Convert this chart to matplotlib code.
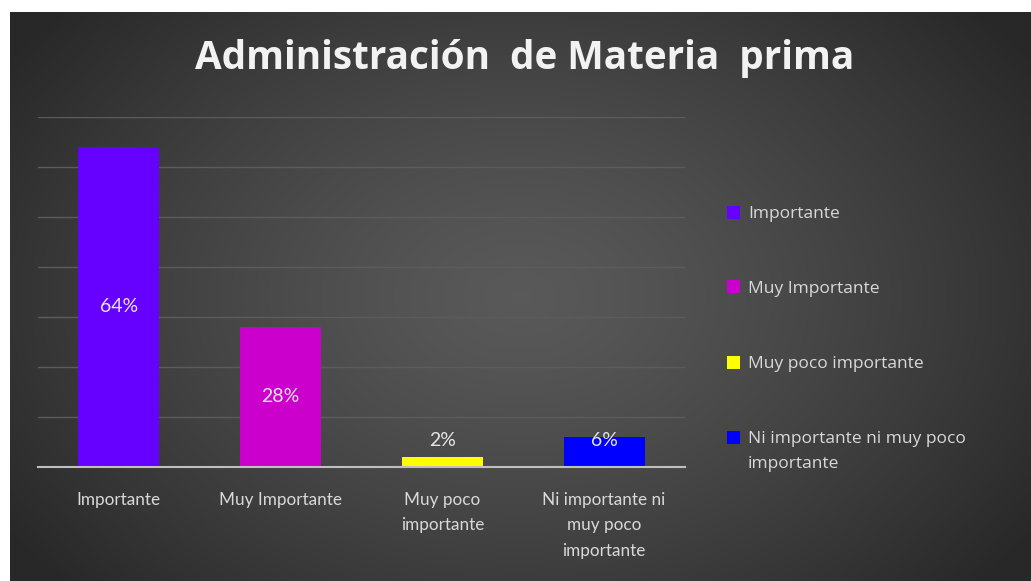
import numpy as np
import matplotlib.pyplot as plt
from matplotlib.patches import Rectangle

categorias = ["Importante", "Muy Importante", "Muy poco\nimportante", "Ni importante ni\nmuy poco\nimportante"]
leyenda = ["Importante", "Muy Importante", "Muy poco importante", "Ni importante ni muy poco\nimportante"]
valores = [0.64, 0.28, 0.02, 0.06]
colores = ["#6600FF", "#CC00CC", "#FFFF00", "#0000FF"]

plt.rcParams['font.family'] = ['Lato', 'DejaVu Sans']

W, H = 1031, 581
fig = plt.figure(figsize=(W / 100, H / 100), dpi=100)
fig.patch.set_facecolor("white")

# fondo oscuro con degradado radial
bg = fig.add_axes([10 / W, 0, 1 - 10 / W, 569 / H])
yy, xx = np.mgrid[0:1:300j, 0:1:500j]
r = np.sqrt(((xx - 0.5) / 0.6) ** 2 + ((yy - 0.5) / 0.75) ** 2)
g = 0.35 - 0.19 * np.clip(r, 0, 1) ** 1.3
bg.imshow(np.dstack([g, g, g]), aspect="auto", extent=[0, 1, 0, 1])
bg.set_axis_off()

ax = fig.add_axes([38 / W, (H - 467) / H, (685 - 38) / W, 350 / H])
ax.set_facecolor("none")
x = np.arange(len(valores))
barras = ax.bar(x, valores, width=0.5, color=colores, zorder=3)
ax.set_xlim(-0.5, 3.5)
ax.set_ylim(0, 0.7)
ax.set_yticks(np.arange(0, 0.71, 0.1))
ax.yaxis.grid(True, color="#5c5c5c", linewidth=1)
ax.tick_params(axis="y", left=False, labelleft=False)
ax.tick_params(axis="x", length=0, pad=18, labelsize=12.3, colors="#d9d9d9")
ax.set_xticks(x)
ax.set_xticklabels(categorias, linespacing=1.72)
for s in ["top", "right", "left"]:
    ax.spines[s].set_visible(False)
ax.spines["bottom"].set_color("#bfbfbf")
ax.spines["bottom"].set_linewidth(1.5)
ax.spines["bottom"].set_zorder(4)

for xi, v in zip(x, valores):
    ax.text(xi, max(v / 2, 0.052), f"{v:.0%}", ha="center", va="center",
            fontsize=14, color="#e6e6e6", zorder=5)

fig.text(525 / W, 1 - 59 / H, "Administración  de Materia  prima", ha="center",
         va="center", fontsize=27.8, fontweight="bold", color="#f2f2f2",
         family=["Open Sans", "DejaVu Sans"])

# leyenda a la derecha
for i, (lab, c) in enumerate(zip(leyenda, colores)):
    yc = 1 - (212 + 75 * i) / H
    fig.add_artist(Rectangle((727 / W, yc - 6.5 / H), 13 / W, 13 / H,
                             facecolor=c, transform=fig.transFigure))
    fig.text(748 / W, yc + 6 / H, lab, ha="left", va="top", fontsize=12.5,
             color="#d9d9d9", linespacing=1.75, family=["Open Sans", "DejaVu Sans"])

fig.savefig("out.png", dpi=100, facecolor="white")
